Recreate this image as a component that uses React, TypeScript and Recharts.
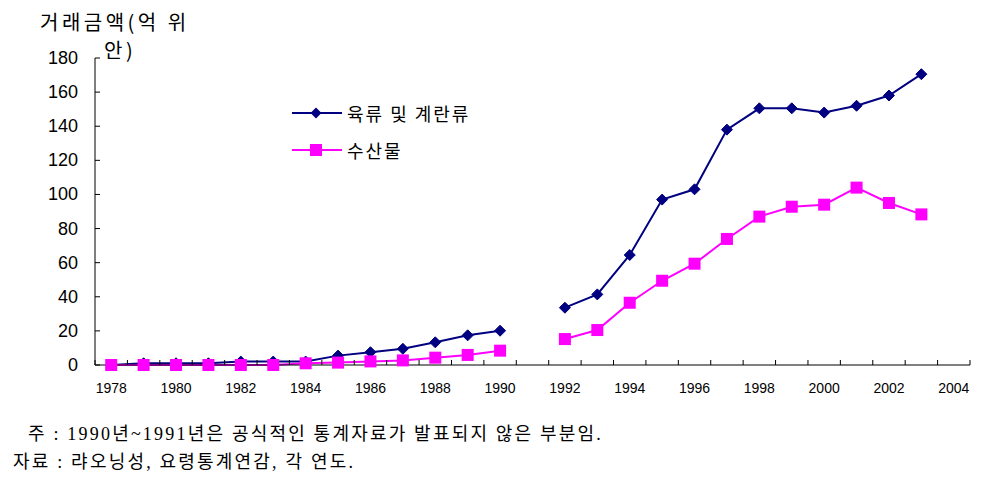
import React from 'react';
import { LineChart, Line, XAxis, YAxis, Legend } from 'recharts';

// 연도별 거래금액 (억 위안), 1991년은 자료 없음
const years = [
  1978, 1979, 1980, 1981, 1982, 1983, 1984, 1985, 1986, 1987, 1988, 1989, 1990,
  1991, 1992, 1993, 1994, 1995, 1996, 1997, 1998, 1999, 2000, 2001, 2002, 2003,
];
const meatEgg = [
  0, 1, 1, 1, 2, 2, 2, 5.5, 7.5, 9.5, 13.3, 17.4, 20.1,
  null, 33.6, 41.4, 64.5, 97, 103, 138, 150.5, 150.5, 148, 152, 158, 170.5,
];
const seafood = [
  0, 0, 0, 0, 0, 0, 1, 1.4, 2.1, 2.7, 4.3, 5.9, 8.4,
  null, 15.2, 20.5, 36.5, 49.4, 59.4, 73.9, 87, 92.8, 94, 104, 95, 88.3,
];
const xLabelYears = [1978, 1980, 1982, 1984, 1986, 1988, 1990, 1992, 1994, 1996, 1998, 2000, 2002, 2004];
const yTicks = [0, 20, 40, 60, 80, 100, 120, 140, 160, 180];

const seriesNames = { meatEgg: '육류 및 계란류', seafood: '수산물' };
const NAVY = '#000080';
const MAGENTA = '#FF00FF';
const KR = '"Noto Sans CJK KR", sans-serif';

const data = years.map((year, i) => ({ year, meatEgg: meatEgg[i], seafood: seafood[i] }));

// tick marks sit between categories, labels on the categories
const firstYear = years[0];
const lastYear = xLabelYears[xLabelYears.length - 1];
const boundaries: number[] = [];
for (let y = firstYear - 0.5; y <= lastYear + 0.5; y += 1) boundaries.push(y);
const xTicks = [...boundaries, ...xLabelYears];

const XTick = (props: any) => {
  const { x, y, payload } = props;
  const v = payload.value;
  if (v % 1 !== 0) {
    return <line x1={x} x2={x} y1={y - 5} y2={y} stroke="#000" strokeWidth={1} />;
  }
  return (
    <text x={x} y={y + 28} textAnchor="middle" fontSize={14} fill="#000" fontFamily="Liberation Sans, Arial, sans-serif">
      {v}
    </text>
  );
};

const YTick = (props: any) => {
  const { x, y, payload } = props;
  return (
    <g>
      <line x1={x} x2={x + 5} y1={y} y2={y} stroke="#000" strokeWidth={1} />
      <text x={x - 17} y={y + 6} textAnchor="end" fontSize={18} fill="#000" fontFamily="Liberation Sans, Arial, sans-serif">
        {payload.value}
      </text>
    </g>
  );
};

const Diamond = (props: any) => {
  const { cx, cy, index } = props;
  if (cx == null || cy == null || props.value == null) return <g key={`d${index}`} />;
  const r = 5.5;
  return (
    <path
      key={`d${index}`}
      d={`M${cx},${cy - r}L${cx + r},${cy}L${cx},${cy + r}L${cx - r},${cy}Z`}
      fill={NAVY}
      stroke={NAVY}
    />
  );
};

const Square = (props: any) => {
  const { cx, cy, index } = props;
  if (cx == null || cy == null || props.value == null) return <g key={`s${index}`} />;
  const h = 6;
  return <rect key={`s${index}`} x={cx - h} y={cy - h} width={h * 2} height={h * 2} fill={MAGENTA} />;
};

const LegendBox = () => (
  <div style={{ fontFamily: KR, fontSize: 18, color: '#000' }}>
    {[
      { name: seriesNames.meatEgg, color: NAVY, kind: 'diamond' },
      { name: seriesNames.seafood, color: MAGENTA, kind: 'square' },
    ].map((it) => (
      <div key={it.name} style={{ display: 'flex', alignItems: 'center', height: 37 }}>
        <svg width={50} height={14} style={{ marginRight: 5 }}>
          <line x1={0} x2={50} y1={7} y2={7} stroke={it.color} strokeWidth={2} />
          {it.kind === 'diamond' ? (
            <path d="M24,1.5L29.5,7L24,12.5L18.5,7Z" fill={it.color} />
          ) : (
            <rect x={18} y={1} width={12} height={12} fill={it.color} />
          )}
        </svg>
        <span style={{ letterSpacing: 2 }}>{it.name}</span>
      </div>
    ))}
  </div>
);

const noteStyle: React.CSSProperties = {
  position: 'absolute',
  fontFamily: `"Liberation Serif", ${KR}`,
  fontSize: 18,
  letterSpacing: 2.2,
  color: '#000',
  whiteSpace: 'nowrap',
};

export default function App() {
  return (
    <div style={{ position: 'absolute', left: 0, top: 0, width: 989, height: 479, background: '#fff' }}>
      <div style={{ position: 'absolute', left: 40, top: 8, fontFamily: KR, fontSize: 20, letterSpacing: 3.5, color: '#000', lineHeight: '28px', whiteSpace: 'nowrap' }}>
        거래금액(억 위
      </div>
      <div style={{ position: 'absolute', left: 104, top: 36, fontFamily: KR, fontSize: 20, letterSpacing: 3.5, color: '#000', lineHeight: '28px' }}>
        안)
      </div>

      <LineChart width={989} height={479} data={data} margin={{ top: 58, right: 19, bottom: 84, left: 0 }}>
        <XAxis
          dataKey="year"
          type="number"
          domain={[firstYear - 0.5, lastYear + 0.5]}
          ticks={xTicks}
          interval={0}
          tick={<XTick />}
          tickLine={false}
          tickSize={0}
          tickMargin={0}
          height={30}
          stroke="#000"
          allowDataOverflow
        />
        <YAxis
          domain={[0, 180]}
          ticks={yTicks}
          interval={0}
          tick={<YTick />}
          tickLine={false}
          tickSize={0}
          tickMargin={0}
          width={95}
          stroke="#000"
        />
        <Legend
          layout="vertical"
          align="center"
          verticalAlign="middle"
          content={() => <LegendBox />}
          wrapperStyle={{ left: 292, top: 94, width: 'auto' }}
        />
        <Line
          dataKey="meatEgg"
          name={seriesNames.meatEgg}
          stroke={NAVY}
          strokeWidth={2}
          dot={<Diamond />}
          activeDot={false}
          type="linear"
          isAnimationActive={false}
        />
        <Line
          dataKey="seafood"
          name={seriesNames.seafood}
          stroke={MAGENTA}
          strokeWidth={2}
          dot={<Square />}
          activeDot={false}
          type="linear"
          isAnimationActive={false}
        />
      </LineChart>

      <div style={{ ...noteStyle, left: 28, top: 419 }}>
        주 : 1990년~1991년은 공식적인 통계자료가 발표되지 않은 부분임.
      </div>
      <div style={{ ...noteStyle, left: 13, top: 447 }}>
        자료 : 랴오닝성, 요령통계연감, 각 연도.
      </div>
    </div>
  );
}
